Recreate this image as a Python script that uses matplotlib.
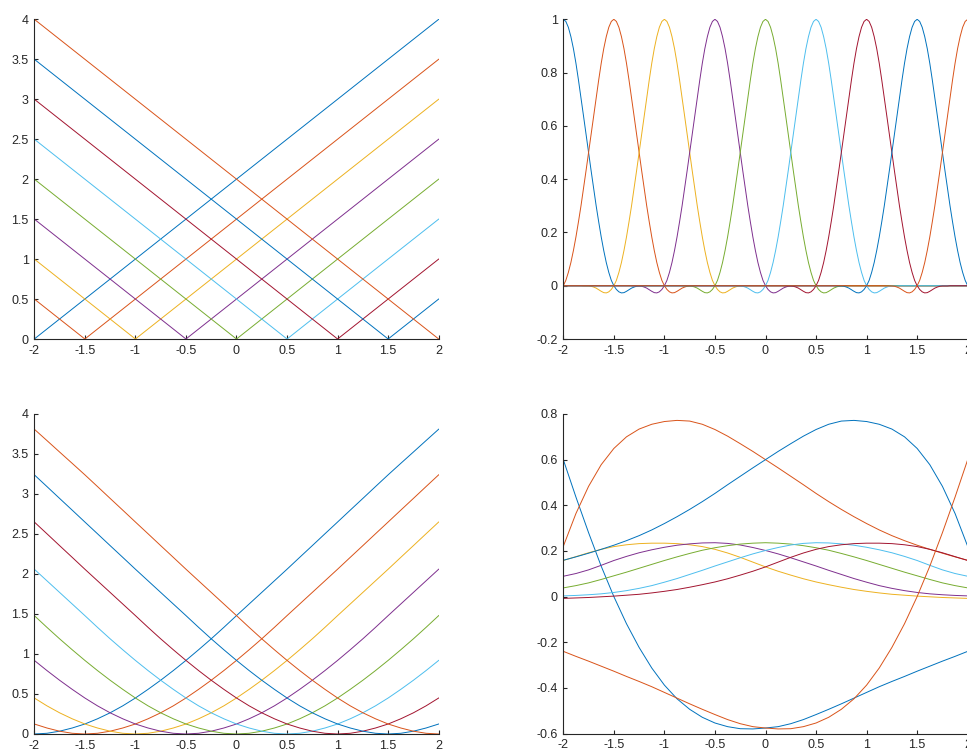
import numpy as np
import matplotlib
matplotlib.use("Agg")
import matplotlib.pyplot as plt

plt.rcParams['font.family'] = ['Liberation Sans', 'DejaVu Sans']
plt.rcParams['axes.unicode_minus'] = False

COLORS = ['#0072BD', '#D95319', '#EDB120', '#7E2F8E', '#77AC30',
          '#4DBEEE', '#A2142F', '#0072BD', '#D95319']

# ---------------- data ----------------
centers = [-2.0, -1.5, -1.0, -0.5, 0.0, 0.5, 1.0, 1.5, 2.0]

# top-left: V shaped lines, value at x=-2, 0 at the centre, value at x=2
tl_left = [0.0, 0.5, 1.0, 1.5, 2.0, 2.5, 3.0, 3.5, 4.0]
tl_right = [4.0, 3.5, 3.0, 2.5, 2.0, 1.5, 1.0, 0.5, 0.0]

# top-right: cardinal bump profile, step 0.025 in distance
tr_step = 0.025
tr_profile = [1.000, 0.992, 0.970, 0.935, 0.890, 0.835, 0.772, 0.705, 0.637,
              0.568, 0.500, 0.432, 0.365, 0.300, 0.240, 0.183, 0.132, 0.087,
              0.050, 0.020, 0.000, -0.014, -0.023, -0.027, -0.026, -0.021,
              -0.015, -0.009, -0.005, -0.002, -0.001, -0.001, -0.001, 0.000,
              0.000, 0.000, 0.000, 0.000, 0.000, 0.000, 0.000]

# bottom-left: smoothed |x-c| profile, step 0.125 in distance
bl_step = 0.125
bl_profile = [0.000, 0.009, 0.035, 0.075, 0.125, 0.190, 0.265, 0.352, 0.450,
              0.558, 0.672, 0.793, 0.920, 1.053, 1.190, 1.333, 1.480, 1.625,
              1.770, 1.915, 2.060, 2.208, 2.355, 2.503, 2.650, 2.798, 2.945,
              3.093, 3.240, 3.383, 3.525, 3.668, 3.810]

# bottom-right: nine curves sampled at x = -2, -1.875, ..., 2
br_x = [-2.0, -1.875, -1.75, -1.625, -1.5, -1.375, -1.25, -1.125, -1.0,
        -0.875, -0.75, -0.625, -0.5, -0.375, -0.25, -0.125, 0.0,
        0.125, 0.25, 0.375, 0.5, 0.625, 0.75, 0.875, 1.0,
        1.125, 1.25, 1.375, 1.5, 1.625, 1.75, 1.875, 2.0]
br_c1 = [0.600, 0.436, 0.280, 0.133, 0.000, -0.119, -0.223, -0.313, -0.388,
         -0.448, -0.494, -0.529, -0.554, -0.570, -0.579, -0.580, -0.576,
         -0.570, -0.557, -0.539, -0.517, -0.494, -0.470, -0.445, -0.420,
         -0.395, -0.372, -0.350, -0.327, -0.305, -0.283, -0.262, -0.240]
br_c2 = [0.220, 0.364, 0.483, 0.578, 0.649, 0.700, 0.734, 0.755, 0.767,
         0.772, 0.769, 0.755, 0.732, 0.703, 0.670, 0.636, 0.600,
         0.564, 0.527, 0.490, 0.452, 0.416, 0.382, 0.350, 0.320,
         0.292, 0.267, 0.245, 0.225, 0.207, 0.190, 0.174, 0.159]
br_c3 = [0.158, 0.175, 0.192, 0.207, 0.219, 0.227, 0.232, 0.234, 0.234,
         0.232, 0.227, 0.219, 0.207, 0.191, 0.172, 0.151, 0.130,
         0.111, 0.094, 0.078, 0.064, 0.052, 0.041, 0.031, 0.023,
         0.016, 0.010, 0.006, 0.002, -0.001, -0.004, -0.006, -0.008]
br_c4 = [0.089, 0.101, 0.117, 0.137, 0.158, 0.176, 0.192, 0.205, 0.216,
         0.225, 0.231, 0.235, 0.236, 0.233, 0.226, 0.215, 0.202,
         0.187, 0.170, 0.152, 0.134, 0.115, 0.097, 0.079, 0.063,
         0.048, 0.036, 0.026, 0.018, 0.012, 0.008, 0.005, 0.003]
br_c5 = [0.038, 0.048, 0.060, 0.075, 0.091, 0.107, 0.124, 0.141, 0.158,
         0.174, 0.189, 0.203, 0.214, 0.223, 0.230, 0.234, 0.236,
         0.234, 0.230, 0.223, 0.214, 0.203, 0.189, 0.174, 0.158,
         0.141, 0.124, 0.107, 0.091, 0.075, 0.060, 0.048, 0.038]
br_c6 = [0.003, 0.005, 0.008, 0.012, 0.018, 0.026, 0.036, 0.048, 0.063,
         0.079, 0.097, 0.115, 0.134, 0.152, 0.170, 0.187, 0.202,
         0.215, 0.226, 0.233, 0.236, 0.235, 0.231, 0.225, 0.216,
         0.205, 0.192, 0.176, 0.158, 0.137, 0.117, 0.101, 0.089]
br_c7 = [-0.008, -0.006, -0.004, -0.001, 0.002, 0.006, 0.010, 0.016, 0.023,
         0.031, 0.041, 0.052, 0.064, 0.078, 0.094, 0.111, 0.130,
         0.151, 0.172, 0.191, 0.207, 0.219, 0.227, 0.232, 0.234,
         0.234, 0.232, 0.227, 0.219, 0.207, 0.192, 0.175, 0.158]
br_c8 = [0.159, 0.174, 0.190, 0.207, 0.225, 0.245, 0.267, 0.292, 0.320,
         0.350, 0.382, 0.416, 0.452, 0.490, 0.527, 0.564, 0.600,
         0.636, 0.670, 0.703, 0.732, 0.755, 0.769, 0.772, 0.767,
         0.755, 0.734, 0.700, 0.649, 0.578, 0.483, 0.364, 0.220]
br_c9 = [-0.240, -0.262, -0.283, -0.305, -0.327, -0.350, -0.372, -0.395, -0.420,
         -0.445, -0.470, -0.494, -0.517, -0.539, -0.557, -0.570, -0.576,
         -0.580, -0.579, -0.570, -0.554, -0.529, -0.494, -0.448, -0.388,
         -0.313, -0.223, -0.119, 0.000, 0.133, 0.280, 0.436, 0.600]
br_curves = [br_c1, br_c2, br_c3, br_c4, br_c5, br_c6, br_c7, br_c8, br_c9]

xticks = [-2, -1.5, -1, -0.5, 0, 0.5, 1, 1.5, 2]
xtick_labels = ['-2', '-1.5', '-1', '-0.5', '0', '0.5', '1', '1.5', '2']
yticks_04 = [0, 0.5, 1, 1.5, 2, 2.5, 3, 3.5, 4]
ylabels_04 = ['0', '0.5', '1', '1.5', '2', '2.5', '3', '3.5', '4']
yticks_tr = [-0.2, 0, 0.2, 0.4, 0.6, 0.8, 1]
ylabels_tr = ['-0.2', '0', '0.2', '0.4', '0.6', '0.8', '1']
yticks_br = [-0.6, -0.4, -0.2, 0, 0.2, 0.4, 0.6, 0.8]
ylabels_br = ['-0.6', '-0.4', '-0.2', '0', '0.2', '0.4', '0.6', '0.8']

# ---------------- figure ----------------
W, H = 967, 751
fig = plt.figure(figsize=(W / 100, H / 100), dpi=100, facecolor='white')

AX_COL = '#262626'
LW = 0.7


def px_axes(left, top, right, bottom):
    return fig.add_axes([left / W, 1 - bottom / H, (right - left) / W, (bottom - top) / H])


def style(ax, ylim, yt, yl):
    ax.set_xlim(-2, 2)
    ax.set_ylim(*ylim)
    ax.set_xticks(xticks)
    ax.set_xticklabels(xtick_labels)
    ax.set_yticks(yt)
    ax.set_yticklabels(yl)
    for s in ['top', 'right']:
        ax.spines[s].set_visible(False)
    for s in ['left', 'bottom']:
        ax.spines[s].set_color(AX_COL)
        ax.spines[s].set_linewidth(0.8)
    ax.tick_params(direction='in', length=3, width=0.8, colors=AX_COL,
                   labelsize=9, pad=4)
    ax.set_facecolor('white')


ax_tl = px_axes(34.3, 19.3, 438.7, 339)
ax_tr = px_axes(563.3, 19.3, 967.7, 339)
ax_bl = px_axes(34.3, 414, 438.7, 734)
ax_br = px_axes(563.3, 414, 967.7, 733.5)

# top-left
for k, c in enumerate(centers):
    ax_tl.plot([-2, c, 2], [tl_left[k], 0, tl_right[k]], color=COLORS[k], lw=LW)
style(ax_tl, (0, 4), yticks_04, ylabels_04)

# top-right
tr_prof = np.array(tr_profile)
x_tr = np.linspace(-2, 2, int(round(4 / tr_step)) + 1)
for k, c in enumerate(centers):
    idx = np.rint(np.abs(x_tr - c) / tr_step).astype(int)
    y = np.where(idx < len(tr_prof), tr_prof[np.minimum(idx, len(tr_prof) - 1)], 0.0)
    ax_tr.plot(x_tr, y, color=COLORS[k], lw=LW)
style(ax_tr, (-0.2, 1), yticks_tr, ylabels_tr)

# bottom-left
bl_prof = np.array(bl_profile)
x_bl = np.linspace(-2, 2, int(round(4 / bl_step)) + 1)
for k, c in enumerate(centers):
    idx = np.rint(np.abs(x_bl - c) / bl_step).astype(int)
    ax_bl.plot(x_bl, bl_prof[idx], color=COLORS[k], lw=LW)
style(ax_bl, (0, 4), yticks_04, ylabels_04)

# bottom-right
for k, yv in enumerate(br_curves):
    ax_br.plot(br_x, yv, color=COLORS[k], lw=LW)
style(ax_br, (-0.6, 0.8), yticks_br, ylabels_br)

fig.savefig('out.png', dpi=100, facecolor='white')
